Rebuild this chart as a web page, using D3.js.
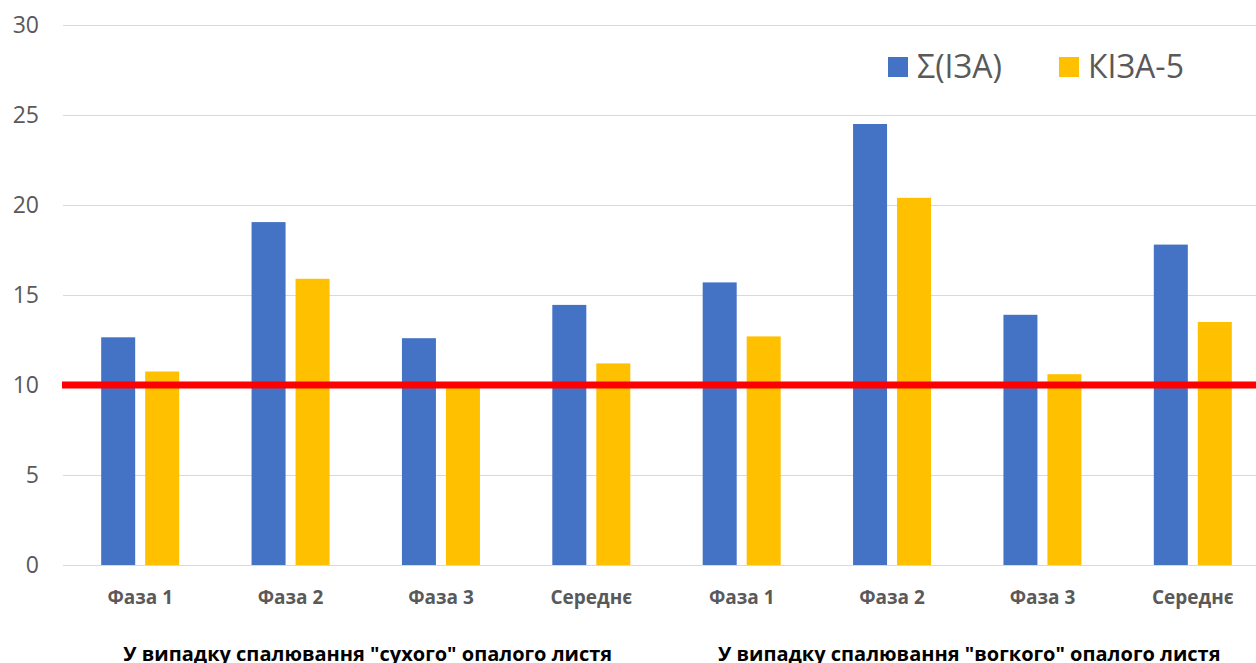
<!DOCTYPE html>
<html>
<head>
<meta charset="utf-8">
<script src="https://cdn.jsdelivr.net/npm/d3@7"></script>
<style>
  html, body { margin: 0; padding: 0; background: #fff; overflow: hidden; }
  svg { display: block; }
</style>
</head>
<body>
<svg id="chart" width="1256" height="663"></svg>
<script>
// Categories (phases) within each burning scenario
const phases = ["Фаза 1", "Фаза 2", "Фаза 3", "Середнє"];
const groups = [
  "У випадку спалювання \"сухого\" опалого листя",
  "У випадку спалювання \"вогкого\" опалого листя"
];
const seriesNames = ["Σ(ІЗА)", "КІЗА-5"];
const seriesColors = ["#4472C4", "#FFC000"];

// Values per category, dry leaves then wet leaves
const sumIZA = [12.65, 19.05, 12.6, 14.45, 15.7, 24.5, 13.9, 17.8];
const kIZA5  = [10.75, 15.9, 9.9, 11.2, 12.7, 20.4, 10.6, 13.5];

const yTicks = [0, 5, 10, 15, 20, 25, 30];
const thresholdValue = 10;

const categories = groups.flatMap((g, gi) => phases.map(p => ({ key: gi + "|" + p, label: p, group: gi })));

const svg = d3.select("#chart");
const plotLeft = 65, plotRight = 1268, plotTop = 25, plotBottom = 565;
const font = "'Open Sans', sans-serif";

const x = d3.scaleBand()
  .domain(categories.map(c => c.key))
  .range([plotLeft, plotRight])
  .paddingInner(0).paddingOuter(0);

const y = d3.scaleLinear().domain([0, 30]).range([plotBottom, plotTop]);

const barW = 34, barGap = 10;

// Horizontal gridlines
svg.append("g")
  .selectAll("line")
  .data(yTicks)
  .join("line")
  .attr("x1", 63).attr("x2", 1256)
  .attr("y1", d => Math.round(y(d)) + 0.5).attr("y2", d => Math.round(y(d)) + 0.5)
  .attr("stroke", "#d9d9d9").attr("stroke-width", 1);

// Y axis labels
const yAxis = d3.axisLeft(y).tickValues(yTicks).tickSize(0).tickPadding(0);
const yG = svg.append("g").attr("transform", "translate(39,0)").call(yAxis);
yG.select(".domain").remove();
yG.selectAll("text")
  .attr("font-family", font)
  .attr("font-size", 23)
  .attr("fill", "#595959");

// Bars
const seriesData = [sumIZA, kIZA5];
seriesData.forEach((vals, si) => {
  svg.append("g")
    .selectAll("rect")
    .data(vals)
    .join("rect")
    .attr("x", (d, i) => x(categories[i].key) + x.bandwidth() / 2 - barW - barGap / 2 + si * (barW + barGap))
    .attr("y", d => y(d))
    .attr("width", barW)
    .attr("height", d => y(0) - y(d))
    .attr("fill", seriesColors[si]);
});

// Baseline
svg.append("line")
  .attr("x1", 63).attr("x2", 1256)
  .attr("y1", Math.round(y(0)) + 0.5).attr("y2", Math.round(y(0)) + 0.5)
  .attr("stroke", "#d9d9d9").attr("stroke-width", 1);

// Threshold line
svg.append("line")
  .attr("x1", 62).attr("x2", 1256)
  .attr("y1", y(thresholdValue)).attr("y2", y(thresholdValue))
  .attr("stroke", "#ff0000").attr("stroke-width", 7);

// Category labels
const xAxis = d3.axisBottom(x).tickSize(0).tickPadding(0)
  .tickFormat(k => categories.find(c => c.key === k).label);
const xG = svg.append("g").attr("transform", `translate(0,${plotBottom + 25})`).call(xAxis);
xG.select(".domain").remove();
xG.selectAll("text")
  .attr("font-family", font)
  .attr("font-weight", "bold")
  .attr("font-size", 19)
  .attr("fill", "#595959");

// Group labels
groups.forEach((g, gi) => {
  const keys = categories.filter(c => c.group === gi).map(c => c.key);
  const cx = (x(keys[0]) + x(keys[keys.length - 1]) + x.bandwidth()) / 2;
  svg.append("text")
    .attr("x", cx + 2).attr("y", 661)
    .attr("text-anchor", "middle")
    .attr("font-family", font)
    .attr("font-weight", "bold")
    .attr("font-size", 20)
    .attr("fill", "#000")
    .text(g);
});

// Legend
const legendX = [888, 1059];
const legend = svg.append("g");
seriesNames.forEach((n, i) => {
  legend.append("rect")
    .attr("x", legendX[i]).attr("y", 57)
    .attr("width", 20).attr("height", 20)
    .attr("fill", seriesColors[i]);
  legend.append("text")
    .attr("x", legendX[i] + 29).attr("y", 67)
    .attr("dy", "0.35em")
    .attr("font-family", font)
    .attr("font-size", 32)
    .attr("fill", "#595959")
    .text(n);
});
</script>
</body>
</html>
